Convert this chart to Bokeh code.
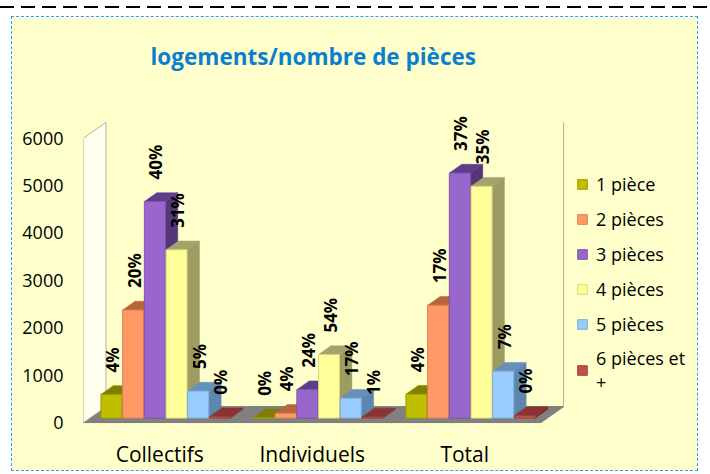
import math
from bokeh.plotting import figure
from bokeh.models import (Range1d, FixedTicker, Legend, LegendItem, ColumnDataSource, InlineStyleSheet)
from bokeh.embed import file_html
from bokeh.resources import INLINE
from bokeh.core.properties import value

# ---------------- data ----------------
categories = ["Collectifs", "Individuels", "Total"]
series_names = ["1 pièce", "2 pièces", "3 pièces", "4 pièces", "5 pièces", "6 pièces et\n+"]
piece1 = [500, 5, 505]
piece2 = [2280, 100, 2380]
piece3 = [4570, 600, 5170]
piece4 = [3550, 1340, 4890]
piece5 = [570, 420, 990]
piece6 = [30, 25, 55]
pct1 = ["4%", "0%", "4%"]
pct2 = ["20%", "4%", "17%"]
pct3 = ["40%", "24%", "37%"]
pct4 = ["31%", "54%", "35%"]
pct5 = ["5%", "17%", "7%"]
pct6 = ["0%", "1%", "0%"]
y_ticks = [0, 1000, 2000, 3000, 4000, 5000, 6000]

series_values = [piece1, piece2, piece3, piece4, piece5, piece6]
series_pcts = [pct1, pct2, pct3, pct4, pct5, pct6]

# ---------------- styles ----------------
front_colors = ["#BFBF00", "#FF9966", "#9966CC", "#FFFF99", "#99CCFF", "#C0504D"]
top_colors = ["#7F7F00", "#B8643C", "#5E3D8A", "#A3A36B", "#6590BC", "#8C3332"]
side_colors = ["#8C8C00", "#A85A36", "#553779", "#9C9C62", "#5C86AE", "#7F2E2D"]
edge_colors = ["#9A9A00", "#D9804F", "#7F55AA", "#D6D680", "#7FAAD4", "#9E403D"]
BG = "#FFFFCC"
FONT = "Open Sans"

# ---------------- geometry (layout of the pseudo 3D view) ----------------
W, H = 685, 453               # figure placed at page (12, 17)
FRAME_LEFT, FRAME_TOP, FRAME_BOTTOM = 71, 58, 416
ZERO_CY = 407                 # canvas y of value 0 on the front plane
PX_PER_X = 152.5              # pixels per category
PX_PER_Y = 286.0 / 6000.0     # pixels per value unit
DX = 22.5 / PX_PER_X          # full depth, x
DY = 16.0 / PX_PER_Y          # full depth, y
FRONT = 0.28                  # bar front plane (fraction of depth)
DEPTH = 0.55                  # bar depth (fraction of depth)
PITCH = 0.1423
BW = 0.1377
MARGIN = (1 - len(series_values) * PITCH) / 2

ncat = len(categories)
wall_top = y_ticks[-1]

p = figure(width=W, height=H, output_backend="svg", toolbar_location=None,
           x_range=Range1d(0, (W - FRAME_LEFT) / PX_PER_X),
           y_range=Range1d(-(FRAME_BOTTOM - ZERO_CY) / PX_PER_Y, (ZERO_CY - FRAME_TOP) / PX_PER_Y),
           min_border_left=FRAME_LEFT, min_border_right=0,
           min_border_top=FRAME_TOP, min_border_bottom=H - FRAME_BOTTOM,
           x_axis_location="below", y_axis_location="left")
p.styles = {"margin-left": "12px", "margin-top": "17px",
            "outline": "1px dashed #2A9FE8", "outline-offset": "0px"}
p.stylesheets = [InlineStyleSheet(css=(
    ":host::before { content: ''; position: absolute; left: -12px; top: -11px;"
    " width: 710px; height: 2px; z-index: 10;"
    " background: repeating-linear-gradient(to right, #000000 0px, #000000 14px,"
    " transparent 14px, transparent 21px); }"))]
p.background_fill_color = BG
p.border_fill_color = BG
p.outline_line_color = None
p.xgrid.visible = False
p.ygrid.visible = False

# title
p.title.text = "logements/nombre de pièces"
p.title.align = "left"
p.title.offset = 67
p.title.standoff = 8
p.title.text_font = FONT
p.title.text_font_style = "bold"
p.title.text_font_size = "22.5px"
p.title.text_color = "#0A7FCF"

# axes
yax = p.yaxis[0]
yax.ticker = FixedTicker(ticks=y_ticks)
yax.axis_line_color = None
yax.major_tick_line_color = None
yax.minor_tick_line_color = None
yax.major_tick_out = 0
yax.major_tick_in = 0
yax.major_label_standoff = 20
yax.major_label_text_font = FONT
yax.major_label_text_font_size = "18px"
yax.major_label_text_color = "#000000"

xax = p.xaxis[0]
xax.ticker = FixedTicker(ticks=[i + 0.5 for i in range(ncat)])
xax.major_label_overrides = {i + 0.5: c for i, c in enumerate(categories)}
xax.axis_line_color = None
xax.major_tick_line_color = None
xax.minor_tick_line_color = None
xax.major_tick_out = 0
xax.major_tick_in = 0
xax.major_label_standoff = 8
xax.major_label_text_font = FONT
xax.major_label_text_font_size = "21px"
xax.major_label_text_color = "#000000"

# walls and floor
p.patch([DX, DX, ncat + DX, ncat + DX], [DY, wall_top + DY, wall_top + DY, DY],
        fill_color=BG, line_color=None)
p.segment(x0=[ncat + DX], y0=[DY], x1=[ncat + DX], y1=[wall_top + DY],
          line_color="#B4B49C", line_width=1)
p.patch([0, DX, ncat + DX, ncat], [0, DY, DY, 0], fill_color="#808080",
        line_color="#7A7A7A", line_width=1)
p.patch([0, 0, DX, DX], [0, wall_top, wall_top + DY, DY], fill_color="#FFFFF0",
        line_color="#B4B49C", line_width=1)

# bars: side & top faces in drawing order
face_xs, face_ys, face_col = [], [], []
fronts = [dict(left=[], right=[], bottom=[], top=[]) for _ in series_values]
lab = dict(x=[], y=[], text=[])
bx, by = DEPTH * DX, DEPTH * DY
for i in range(ncat):
    for j, vals in enumerate(series_values):
        v = vals[i]
        x0 = i + MARGIN + j * PITCH + FRONT * DX
        yb = FRONT * DY
        yt = yb + v
        face_xs.append([x0 + BW, x0 + BW + bx, x0 + BW + bx, x0 + BW])
        face_ys.append([yb, yb + by, yt + by, yt])
        face_col.append(side_colors[j])
        face_xs.append([x0, x0 + BW, x0 + BW + bx, x0 + bx])
        face_ys.append([yt, yt, yt + by, yt + by])
        face_col.append(top_colors[j])
        fronts[j]["left"].append(x0)
        fronts[j]["right"].append(x0 + BW)
        fronts[j]["bottom"].append(yb)
        fronts[j]["top"].append(yt)
        lab["x"].append(x0 + BW / 2)
        lab["y"].append(yt)
        lab["text"].append(series_pcts[j][i])

p.patches(xs="xs", ys="ys", fill_color="c", line_color="c", line_width=0.5,
          source=ColumnDataSource(dict(xs=face_xs, ys=face_ys, c=face_col)))

items = []
for j, name in enumerate(series_names):
    r = p.quad(left="left", right="right", bottom="bottom", top="top",
               source=ColumnDataSource(fronts[j]), fill_color=front_colors[j],
               line_color=edge_colors[j], line_width=1)
    items.append(LegendItem(label=name, renderers=[r]))

p.text(x="x", y="y", text="text", source=ColumnDataSource(lab),
       angle=math.pi / 2, text_align="left", text_baseline="middle",
       x_offset=1, y_offset=-22, text_font=value(FONT), text_font_style="bold",
       text_font_size="17px", text_color="#000000")

legend = Legend(items=items, location=(493, 37), orientation="vertical",
                glyph_width=12, glyph_height=12, label_standoff=8,
                label_height=25, spacing=10, padding=0, margin=0,
                label_text_font=FONT, label_text_font_size="18px",
                label_text_color="#000000", label_text_line_height=1.5,
                border_line_alpha=0, background_fill_alpha=0)
p.add_layout(legend, "center")

open("out.html", "w").write(file_html(p, INLINE))
